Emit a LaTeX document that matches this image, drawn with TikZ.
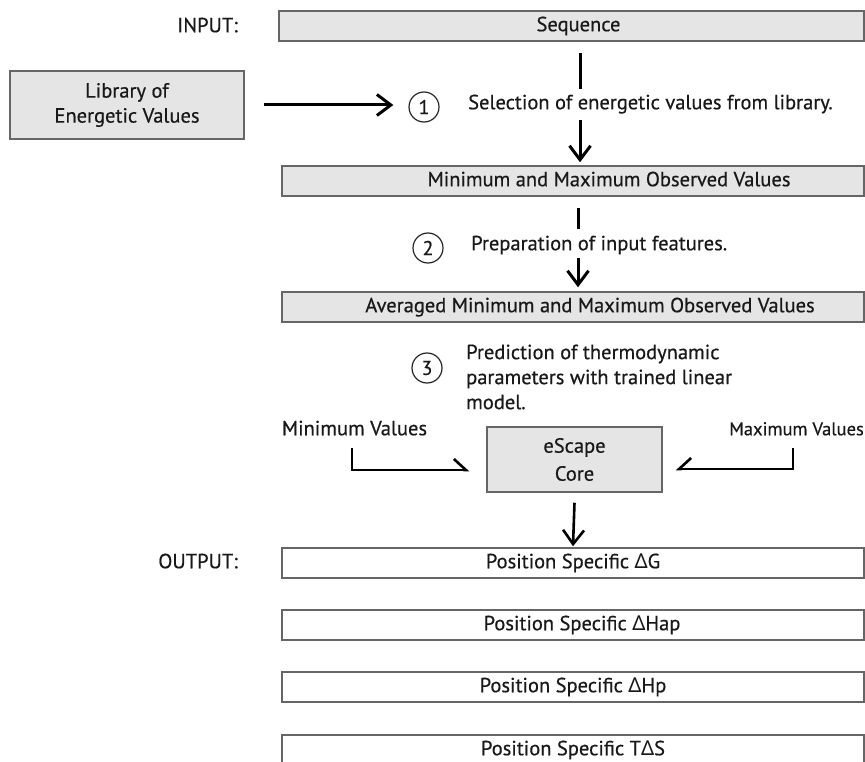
\documentclass[tikz,border=0pt]{standalone}
\usepackage{fontspec}
\setmainfont{PT Sans}[FakeBold=0.5]
\newfontfamily\grk{Noto Sans}
\usetikzlibrary{arrows.meta}
\newcommand{\Dl}{{\grk Δ}}
\begin{document}
\begin{tikzpicture}[x=1pt,y=-1pt,
  txt/.style={font=\fontsize{20.5}{25}\selectfont, text=black!90, inner sep=0pt},
  oneline/.style={text height=14.5pt, text depth=4pt},
  graybox/.style={draw=black!60, line width=1.5pt, fill=black!10, inner sep=0pt, txt},
  whitebox/.style={graybox, fill=white},
  widebox/.style={minimum width=582pt, minimum height=30pt, oneline},
  stepnum/.style={circle, draw=black!85, line width=1.2pt, minimum size=30pt, inner sep=0pt, font=\fontsize{20}{20}\selectfont, text=black!90},
  flow/.style={line width=3pt, black},
  flowarr/.style={flow, -{Straight Barb[length=14pt,width=21pt]}},
  sidearr/.style={line width=2.6pt, black, -{Straight Barb[harpoon,length=12pt,width=22pt]}},
  sidearrs/.style={line width=2.6pt, black, -{Straight Barb[harpoon,swap,length=12pt,width=22pt]}},
]
\useasboundingbox (0,0) rectangle (865,762);
\clip (0,0) rectangle (865,762);
\fill[white] (0,0) rectangle (865,762);

\node[txt, oneline, anchor=east] (inlbl) at (238,27) {INPUT:};
\node[graybox, widebox, minimum width=585pt] (seq) at (571.5,26) {\hspace*{14pt}Sequence};
\node[graybox, minimum width=234pt, minimum height=68pt, align=center] (lib) at (127,105) {Library of\\Energetic Values};
\node[stepnum] (c1) at (424,107) {1};
\node[txt, oneline, anchor=west] (t1) at (468,104) {Selection of energetic values from library.};
\node[graybox, widebox] (mm) at (573,181) {\hspace*{72pt}Minimum and Maximum Observed Values};
\node[stepnum] (c2) at (428,248) {2};
\node[txt, oneline, anchor=west] (t2) at (471,245) {Preparation of input features.};
\node[graybox, widebox] (avg) at (573,307) {\hspace*{34pt}Averaged Minimum and Maximum Observed Values};
\node[stepnum] (c3) at (427,368) {3};
\node[txt, anchor=west, align=left] (t3) at (466,377) {Prediction of thermodynamic\\parameters with trained linear\\model.};
\node[txt, oneline] (minv) at (354.5,430) {Minimum Values};
\node[txt, oneline, font=\fontsize{18.5}{20}\selectfont] (maxv) at (796.5,430) {Maximum Values};
\node[graybox, minimum width=175pt, minimum height=65pt, align=center, font=\fontsize{20.5}{28}\selectfont] (core) at (574.5,459.5) {eScape\\Core};
\node[txt, oneline, anchor=east] (outlbl) at (238,563) {OUTPUT:};
\node[whitebox, widebox] (dg) at (573,563) {Position Specific \Dl G};
\node[whitebox, widebox] (dhap) at (573,625) {\hspace*{18pt}Position Specific \Dl Hap};
\node[whitebox, widebox] (dhp) at (573,687) {Position Specific \Dl Hp};
\node[whitebox, widebox] (tds) at (573,750) {Position Specific T\Dl S};

\coordinate (s1a) at (580,53);
\coordinate (s1b) at (580,89);
\coordinate (s1c) at (580,120);
\draw[flow] (s1a) -- (s1b);
\draw[flowarr] (s1c) -- ([yshift=3pt]s1c |- mm.north);

\coordinate (s2a) at (578,208);
\coordinate (s2b) at (578,229);
\coordinate (s2c) at (578,258);
\draw[flow] (s2a) -- (s2b);
\draw[flowarr] (s2c) -- ([yshift=4pt]s2c |- avg.north);

\draw[flowarr] ([xshift=19pt]lib.east) -- ([xshift=-15pt]lib.east -| c1.west);

\coordinate (minA) at (352,448);
\draw[sidearr] (minA) |- ([xshift=-17pt,yshift=-10.5pt]core.west);
\coordinate (maxA) at (793,448);
\draw[sidearrs] (maxA) |- ([xshift=13pt,yshift=-9.5pt]core.east);

\draw[flowarr, line width=2.6pt] ([yshift=-10pt]core.south) -- ([yshift=1pt]dg.north);
\end{tikzpicture}
\end{document}
